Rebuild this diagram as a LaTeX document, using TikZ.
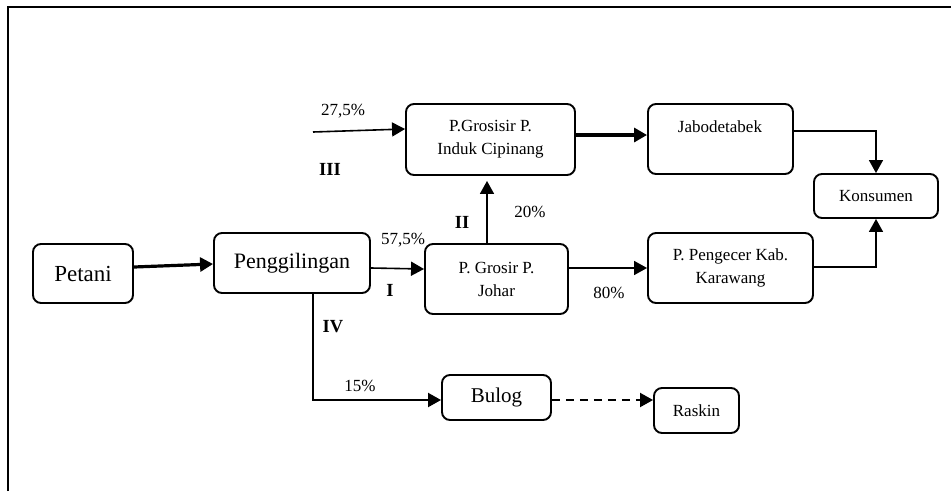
\documentclass[tikz,border=0pt]{standalone}
\usepackage{fontspec}
\setmainfont{Liberation Serif}
\usetikzlibrary{arrows.meta}
\tikzset{
  box/.style={draw, line width=1.9pt, rounded corners=8pt, inner sep=0pt, align=center},
  small/.style={font=\fontsize{17}{23}\selectfont},
  lbl/.style={inner sep=0pt, font=\fontsize{17}{23}\selectfont},
  roman/.style={inner sep=0pt, font=\fontsize{18.5}{22}\selectfont\bfseries},
  thickarr/.style={line width=3.2pt, -{Triangle[length=13pt,width=14pt]}},
  thinarr/.style={line width=1.6pt, -{Triangle[length=13pt,width=14pt]}},
}
\begin{document}
\begin{tikzpicture}[x=1pt,y=-1pt]
\useasboundingbox (0,0) rectangle (951,491);
% frame
\draw[line width=2.2pt] (8,491) -- (8,7) -- (951,7);
% boxes
\node[box, minimum width=100pt, minimum height=59pt, font=\fontsize{23}{26}\selectfont] (petani) at (83,273.5) {Petani};
\node[box, minimum width=156pt, minimum height=60pt, font=\fontsize{22}{26}\selectfont] (peng) at (292,263) {Penggilingan};
\node[box, minimum width=143pt, minimum height=70pt, small] (johar) at (496.5,279) {P. Grosir P.\\Johar};
\node[box, minimum width=169pt, minimum height=71pt, small] (cip) at (490.5,139.5) {P.Grosisir P.\\Induk Cipinang};
\node[box, minimum width=145pt, minimum height=70pt] (jab) at (720.5,139) {};
\node[lbl] (jabt) at (720,127) {Jabodetabek};
\node[box, minimum width=124pt, minimum height=44pt, small] (kons) at (876,196) {Konsumen};
\node[box, minimum width=165pt, minimum height=70pt, small] (pec) at (730.5,268) {P. Pengecer Kab.\\Karawang};
\node[box, minimum width=109pt, minimum height=45pt, font=\fontsize{21}{24}\selectfont] (bulog) at (496.5,397.5) {Bulog};
\node[box, minimum width=85pt, minimum height=45pt, small] (raskin) at (696.5,410.5) {Raskin};
% connectors
\draw[thickarr] (petani.east |- 0,267) -- (peng.west |- 0,264);
\draw[thinarr] (peng.east |- 0,268) -- (johar.west |- 0,269);
\draw[thinarr, shorten >=5pt] (johar.north -| 487,0) -- (cip.south -| 487,0);
\coordinate (in3) at (313,132);
\draw[thinarr] (in3) -- (cip.west |- 0,129);
\draw[thickarr] (cip.east |- 0,135) -- (jab.west |- 0,135);
\draw[thinarr] (johar.east |- 0,268) -- (pec.west |- 0,268);
\draw[thinarr] (jab.east |- 0,131) -| (kons.north);
\draw[thinarr] (pec.east |- 0,267) -| (kons.south);
\draw[thinarr, line width=2pt] (peng.south -| 313,0) |- (bulog.west |- 0,400);
\draw[thinarr, line width=2pt, dash pattern=on 8pt off 6pt] (bulog.east |- 0,400) -- (raskin.west |- 0,400);
% labels
\node[lbl] (l275) at (343,111) {27,5\%};
\node[roman] (l3) at (330,169) {III};
\node[lbl] (l20) at (530,212) {20\%};
\node[roman] (l2) at (462,222) {II};
\node[lbl] (l575) at (403,240) {57,5\%};
\node[roman] (l1) at (390,290) {I};
\node[lbl] (l80) at (609,293) {80\%};
\node[roman] (l4) at (333,327) {IV};
\node[lbl] (l15) at (360,386) {15\%};
\end{tikzpicture}
\end{document}
